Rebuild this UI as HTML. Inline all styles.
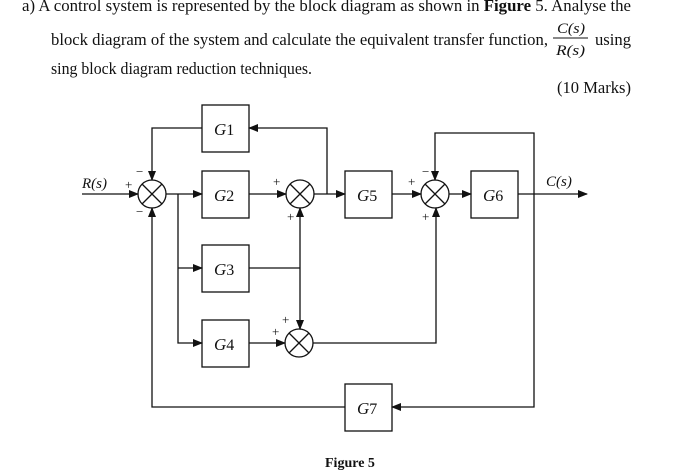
<!DOCTYPE html>
<html><head><meta charset="utf-8"><style>body{margin:0;background:#fff}svg{display:block}</style></head>
<body>
<svg width="697" height="474" viewBox="0 0 697 474" xmlns="http://www.w3.org/2000/svg" font-family="Liberation Serif, serif">
<defs><marker id="a" markerWidth="10" markerHeight="8" refX="9" refY="4" orient="auto" markerUnits="userSpaceOnUse"><path d="M0,0 L10,4 L0,8 z" fill="#111"/></marker></defs>
<g fill="#111" font-size="17">
<text x="22" y="11" textLength="609" lengthAdjust="spacingAndGlyphs">a)  A control system is represented by the block diagram as shown in <tspan font-weight="bold">Figure</tspan> 5. Analyse the</text>
<text x="51" y="45" textLength="497" lengthAdjust="spacingAndGlyphs">block diagram of the system and calculate the equivalent transfer function,</text>
<text x="557" y="33" font-size="15" font-style="italic" textLength="28" lengthAdjust="spacingAndGlyphs">C(s)</text>
<line x1="553" y1="38" x2="588" y2="38" stroke="#111" stroke-width="1"/>
<text x="556" y="55" font-size="15" font-style="italic" textLength="29" lengthAdjust="spacingAndGlyphs">R(s)</text>
<text x="595" y="45" textLength="36" lengthAdjust="spacingAndGlyphs">using</text>
<text x="51" y="74" textLength="261" lengthAdjust="spacingAndGlyphs">sing block diagram reduction techniques.</text>
<text x="557" y="93" textLength="74" lengthAdjust="spacingAndGlyphs">(10 Marks)</text>
<text x="325" y="467" font-size="14" font-weight="bold">Figure 5</text>
</g>
<g stroke="#111" stroke-width="1.3" fill="none">
<rect x="202" y="105" width="47" height="47"/>
<rect x="202" y="171" width="47" height="47"/>
<rect x="202" y="245" width="47" height="47"/>
<rect x="202" y="320" width="47" height="47"/>
<rect x="345" y="171" width="47" height="47"/>
<rect x="471" y="171" width="47" height="47"/>
<rect x="345" y="384" width="47" height="47"/>
<circle cx="152" cy="194" r="14"/><path d="M142,184 L162,204 M162,184 L142,204"/>
<circle cx="300" cy="194" r="14"/><path d="M290,184 L310,204 M310,184 L290,204"/>
<circle cx="435" cy="194" r="14"/><path d="M425,184 L445,204 M445,184 L425,204"/>
<circle cx="299" cy="343" r="14"/><path d="M289,333 L309,353 M309,333 L289,353"/>
<path d="M82,194 H138" marker-end="url(#a)"/>
<path d="M166,194 H202" marker-end="url(#a)"/>
<path d="M249,194 H286" marker-end="url(#a)"/>
<path d="M314,194 H345" marker-end="url(#a)"/>
<path d="M392,194 H421" marker-end="url(#a)"/>
<path d="M449,194 H471" marker-end="url(#a)"/>
<path d="M518,194 H587" marker-end="url(#a)"/>
<path d="M327,194 V128 H249" marker-end="url(#a)"/>
<path d="M202,128 H152 V180" marker-end="url(#a)"/>
<path d="M178,194 V343 H202" marker-end="url(#a)"/>
<path d="M178,268 H202" marker-end="url(#a)"/>
<path d="M249,268 H300"/>
<path d="M300,268 V208" marker-end="url(#a)"/>
<path d="M300,268 V329" marker-end="url(#a)"/>
<path d="M249,343 H285" marker-end="url(#a)"/>
<path d="M313,343 H436 V208" marker-end="url(#a)"/>
<path d="M534,194 V133 H435 V180" marker-end="url(#a)"/>
<path d="M534,194 V407 H392" marker-end="url(#a)"/>
<path d="M345,407 H152 V208" marker-end="url(#a)"/>
</g>
<g fill="#111" font-size="17" font-style="italic">
<text x="214" y="135">G<tspan font-style="normal" font-size="16">1</tspan></text>
<text x="214" y="201">G<tspan font-style="normal" font-size="16">2</tspan></text>
<text x="214" y="275">G<tspan font-style="normal" font-size="16">3</tspan></text>
<text x="214" y="350">G<tspan font-style="normal" font-size="16">4</tspan></text>
<text x="357" y="201">G<tspan font-style="normal" font-size="16">5</tspan></text>
<text x="483" y="201">G<tspan font-style="normal" font-size="16">6</tspan></text>
<text x="357" y="414">G<tspan font-style="normal" font-size="16">7</tspan></text>
<text x="82" y="188" font-size="15">R(s)</text>
<text x="546" y="186" font-size="15">C(s)</text>
</g>
<g fill="#111" font-size="13">
<text x="125" y="189">+</text><text x="136" y="176">−</text><text x="136" y="216">−</text>
<text x="273" y="186">+</text><text x="287" y="221">+</text>
<text x="408" y="186">+</text><text x="422" y="221">+</text><text x="422" y="176">−</text>
<text x="282" y="324">+</text><text x="272" y="336">+</text>
</g>
</svg>
</body></html>
